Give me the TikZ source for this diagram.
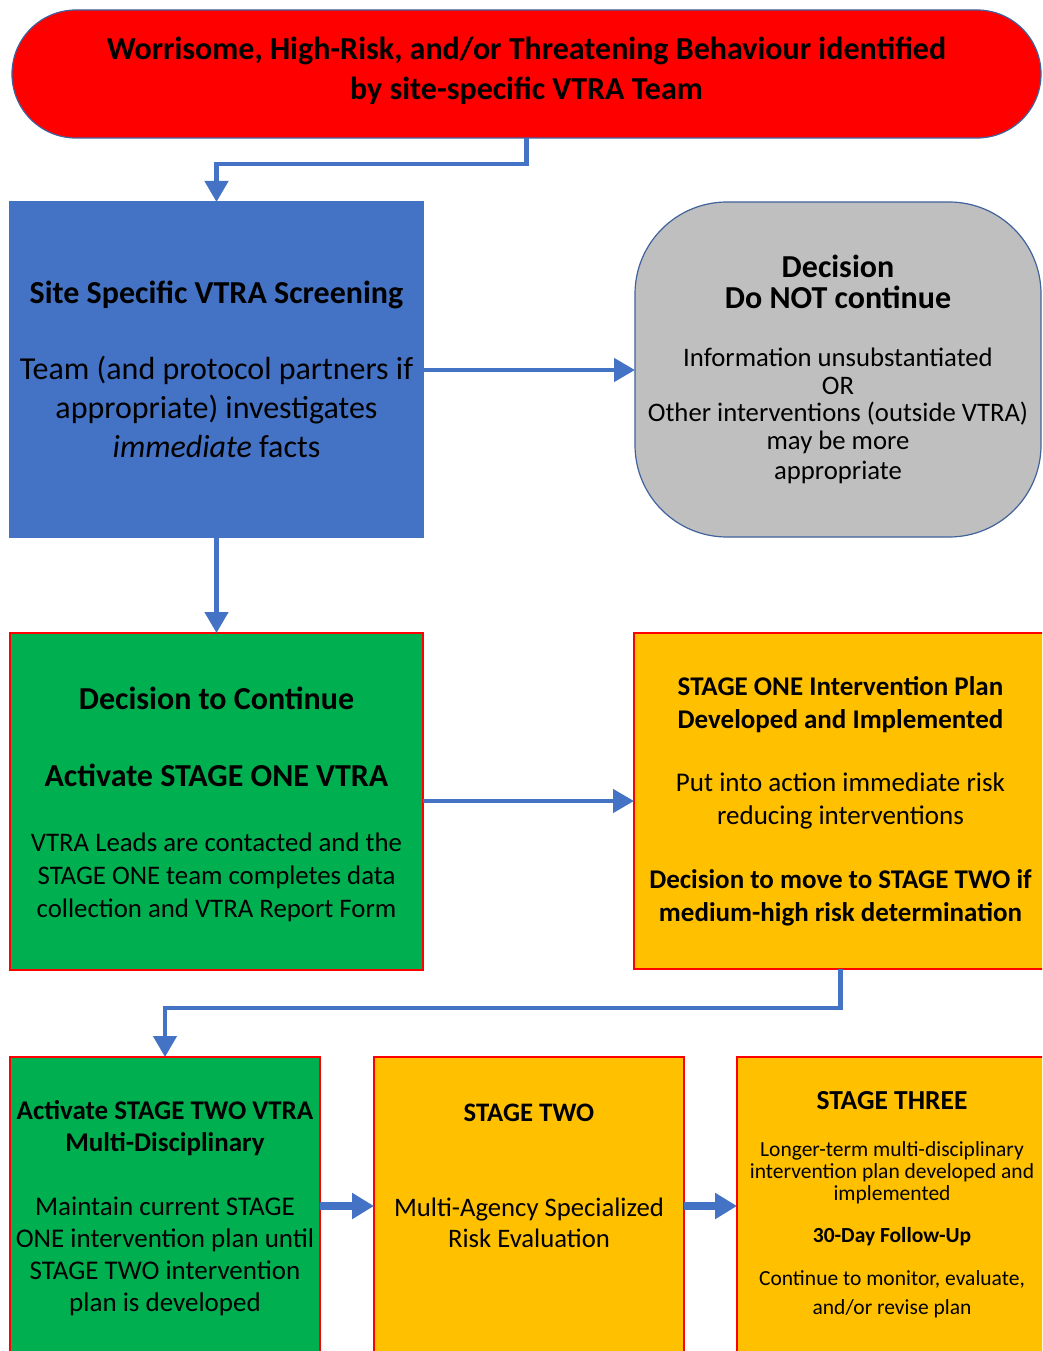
\documentclass[tikz,border=0pt]{standalone}
\usepackage{fontspec}
\setmainfont{Carlito}
\usetikzlibrary{positioning,arrows.meta}
\definecolor{flowblue}{HTML}{4472C4}
\definecolor{flowedge}{HTML}{41629C}
\definecolor{flowgreen}{HTML}{00B050}
\definecolor{floworange}{HTML}{FFC000}
\definecolor{flowgrey}{HTML}{BFBFBF}
\definecolor{flowred}{HTML}{FF0000}
\newcommand*{\flowfont}[2]{\fontsize{#1}{#2}\selectfont}
\newcommand*{\bighead}[1]{{\flowfont{32}{31}\bfseries #1}}
\tikzset{stepbox/.style={draw=#1, line width=1.2pt, inner sep=0pt, outer sep=0pt,
  align=center, anchor=north west},
stepbox/.default={flowred}}
\tikzset{flowline/.style={draw=flowblue, line width=4.5pt,
  -{Triangle[width=23pt,length=21pt]}}}
\tikzset{fatline/.style={draw=flowblue, line width=8pt,
  -{Triangle[width=25pt,length=22pt]}}}

\begin{document}
\begin{tikzpicture}[x=1pt,y=-1pt]
  \useasboundingbox (0,0) rectangle (1042,1351);
  \clip (0,0) rectangle (1042,1351);
  % top
  \node[stepbox=flowedge, fill=flowred, rounded corners=64pt,
    minimum width=1029pt, minimum height=128pt, font=\flowfont{32}{40}\bfseries]
    (alert) at (12,10)
    {Worrisome, High-Risk, and/or Threatening Behaviour identified\\
     by site-specific VTRA Team\rule[-12pt]{0pt}{12pt}};
  % screening row
  \node[stepbox=flowblue, fill=flowblue, minimum width=413pt, minimum height=335pt,
    font=\flowfont{32}{39}]
    (screen) at (10,202)
    {\textbf{Site Specific VTRA Screening}\\[37pt]
     Team (and protocol partners if\\
     appropriate) investigates\\
     \textit{immediate} facts};
  \node[stepbox=flowedge, fill=flowgrey, rounded corners=92pt,
    minimum width=406pt, minimum height=335pt, font=\flowfont{26.7}{27.5}]
    (stop) at (635,202)
    {\bighead{Decision}\\[3pt]
     \bighead{Do NOT continue}\\[31pt]
     Information unsubstantiated\\
     OR\\
     Other interventions (outside VTRA)\\
     may be more\\[3pt]
     appropriate};
  % stage one row
  \node[stepbox, fill=flowgreen, minimum width=413pt, minimum height=337pt,
    font=\flowfont{26.8}{33}]
    (goon) at (10,633)
    {\rule{0pt}{28pt}\bighead{Decision to Continue}\\[44pt]
     \bighead{Activate STAGE ONE VTRA}\\[32pt]
     VTRA Leads are contacted and the\\
     STAGE ONE team completes data\\
     collection and VTRA Report Form};
  \node[stepbox, fill=floworange, minimum width=413pt, minimum height=336pt,
    font=\flowfont{27}{33}]
    (planone) at (634,633)
    {\textbf{STAGE ONE Intervention Plan}\\
     \textbf{Developed and Implemented}\\[30pt]
     Put into action immediate risk\\
     reducing interventions\\[31pt]
     \textbf{Decision to move to STAGE TWO if}\\
     \textbf{medium-high risk determination}};
  % stage two row
  \node[stepbox, fill=flowgreen, minimum width=310pt, minimum height=296pt,
    font=\flowfont{27}{32}]
    (acttwo) at (10,1057)
    {\rule{0pt}{25pt}\textbf{Activate STAGE TWO VTRA}\\
     \textbf{Multi-Disciplinary}\\[32pt]
     Maintain current STAGE\\
     ONE intervention plan until\\
     STAGE TWO intervention\\
     plan is developed};
  \node[stepbox, fill=floworange, minimum width=310pt, minimum height=296pt,
    font=\flowfont{26.7}{31}]
    (stagetwo) at (374,1057)
    {\textbf{STAGE TWO}\\[64pt]
     Multi-Agency Specialized\\
     Risk Evaluation\\[18pt]
     \strut};
  \node[stepbox, fill=floworange, minimum width=310pt, minimum height=296pt,
    font=\flowfont{21.5}{22}]
    (stagethree) at (737,1057)
    {{\flowfont{27.5}{26}\bfseries STAGE THREE}\\[25pt]
     Longer-term multi-disciplinary\\
     intervention plan developed and\\
     implemented\\[20pt]
     \textbf{30-Day Follow-Up}\\[21pt]
     Continue to monitor, evaluate,\\[7pt]
     and/or revise plan};
  % connectors
  \draw[flowline] (alert.south) -- ++(0,26) -| (screen.north);
  \draw[flowline] (screen.east |- 0,370) -- (stop.west |- 0,370);
  \draw[flowline] (screen.south) -- (goon.north);
  \draw[flowline] (goon.east |- 0,801) -- (planone.west |- 0,801);
  \draw[flowline] (planone.south) -- ++(0,39) -| (acttwo.north);
  \draw[fatline] (acttwo.east |- 0,1206) -- (stagetwo.west |- 0,1206);
  \draw[fatline] (stagetwo.east |- 0,1206) -- (stagethree.west |- 0,1206);
\end{tikzpicture}
\end{document}
